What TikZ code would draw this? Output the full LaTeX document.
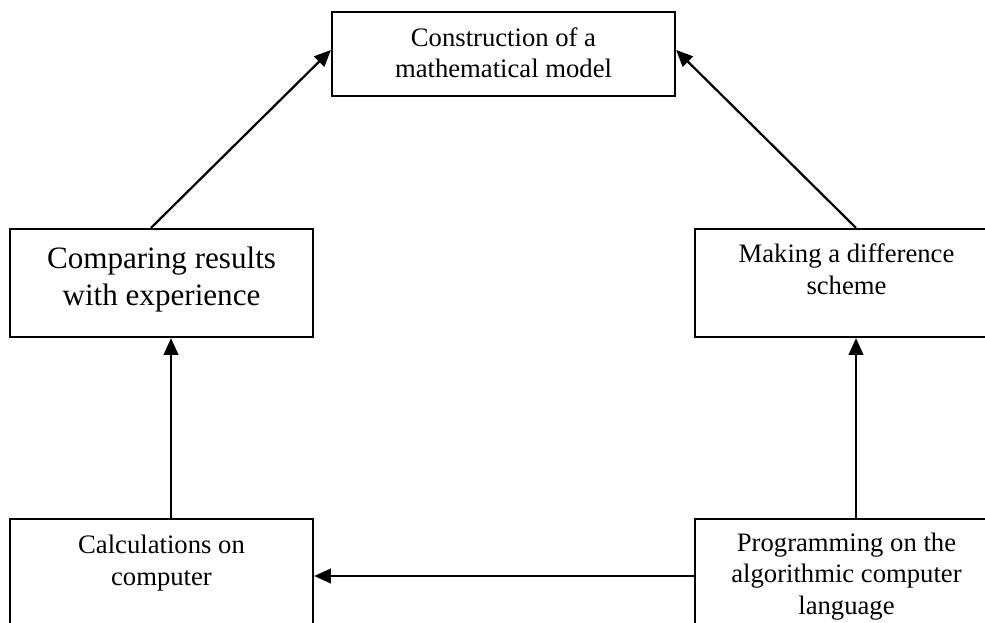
\documentclass[tikz,border=0pt]{standalone}
\usepackage{fontspec}
\setmainfont{Liberation Serif}
\usetikzlibrary{arrows.meta}
\begin{document}
\begin{tikzpicture}[x=0.45pt,y=-0.45pt,
  box/.style={draw=black,line width=1pt,rectangle,inner sep=0pt,minimum width=136.35pt,minimum height=48.6pt},
  lbl/.style={align=center,inner sep=0pt,anchor=base,font=\fontsize{12}{14}\selectfont},
  big/.style={font=\fontsize{14}{16.5}\selectfont},
  conn/.style={line width=1pt,-{Triangle[length=7.5pt,width=6.5pt]}}]
\useasboundingbox (0,0) rectangle (985,623);
\clip (0,0) rectangle (985,623);
% boxes
\node[box,minimum width=154.35pt,minimum height=37.8pt] (model) at (503.5,54) {};
\node[box] (cmp)  at (161.5,283) {};
\node[box] (diff) at (846.5,283) {};
\node[box] (calc) at (161.5,573) {};
\node[box] (prog) at (846.5,573) {};
% texts (anchor base = baseline of the last line)
\node[lbl] (tmodel) at (503.5,78) {Construction of a\\mathematical model};
\node[lbl,big] (tcmp) at (161.5,305) {Comparing results\\with experience};
\node[lbl] (tdiff) at (846.5,294) {Making a difference\\scheme};
\node[lbl] (tcalc) at (161.5,585) {Calculations on\\computer};
\node[lbl] (tprog) at (846.5,614) {Programming on the\\algorithmic computer\\language};
% connectors
\draw[conn] ([xshift=-4.725pt]cmp.north) -- ([yshift=1.8pt]model.west);
\draw[conn] ([xshift=4.275pt]diff.north) -- ([yshift=1.8pt]model.east);
\draw[conn] ([xshift=4.275pt]calc.north) -- ([xshift=4.275pt]cmp.south);
\draw[conn] ([xshift=4.275pt]prog.north) -- ([xshift=4.275pt]diff.south);
\draw[conn] ([yshift=-1.35pt]prog.west) -- ([yshift=-1.35pt]calc.east);
\end{tikzpicture}
\end{document}
